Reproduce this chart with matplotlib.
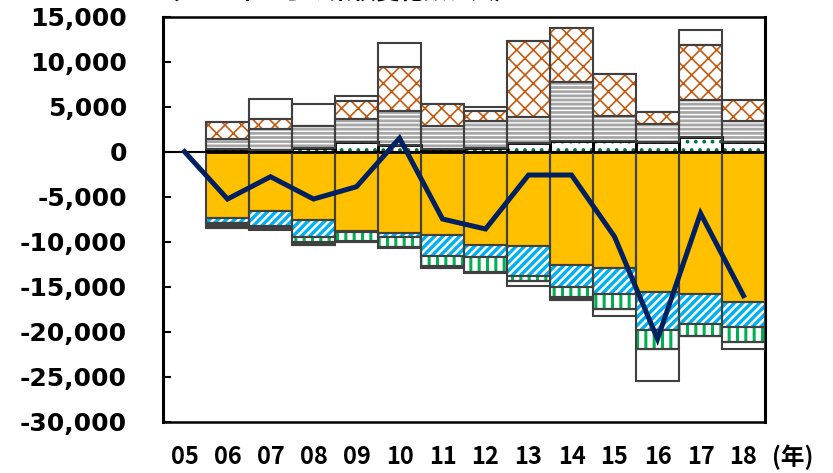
import numpy as np
import matplotlib
matplotlib.use("Agg")
import matplotlib.pyplot as plt

# year labels (05 has only the line value)
years = ['05', '06', '07', '08', '09', '10', '11', '12', '13', '14', '15', '16', '17', '18']
bar_years = years[1:]

# components above zero, from the axis upward
dotted_pos = [300, 200, 450, 1040, 700, 300, 400, 920, 1150, 1150, 1040, 1590, 1040]
stripe_pos = [1100, 2300, 2450, 2590, 3860, 2590, 3040, 2890, 6550, 2850, 2030, 4190, 2400]
cross_pos = [1900, 1100, 0, 2040, 4810, 2410, 1120, 8450, 6040, 4630, 1300, 6110, 2340]
blank_pos = [0, 2250, 2400, 550, 2710, 0, 370, 0, 0, 0, 0, 1670, 0]

# components below zero, from the axis downward
yellow_neg = [7370, 6630, 7590, 8850, 9070, 9260, 10330, 10520, 12560, 12930, 15630, 15810, 16740]
cyan_neg = [590, 1590, 1930, 50, 450, 2300, 1410, 3260, 2510, 2880, 4150, 3340, 2780]
green_neg = [0, 260, 550, 1040, 1110, 1110, 1670, 550, 1120, 1670, 2150, 1290, 1670]
dark_neg = [520, 100, 300, 80, 0, 260, 0, 0, 250, 0, 0, 0, 0]
blank_neg = [0, 120, 0, 0, 100, 0, 110, 560, 0, 740, 3510, 0, 740]

# net change line
net_total = [0, -5260, -2780, -5260, -3890, 1500, -7480, -8590, -2590, -2590, -9440, -20810, -6850, -16000]

x = np.arange(len(years))
xb = x[1:]

fig = plt.figure(figsize=(8.33, 4.73), dpi=100)
ax = fig.add_axes([0.1957, 0.1085, 0.9184 - 0.1957, 0.9647 - 0.1085])

OUTLINE = '#404040'


def layer(bottom, height, face, hatch=None, hcolor=None, hlw=1.0, edge=OUTLINE, elw=1.5):
    height = np.asarray(height, dtype=float)
    with plt.rc_context({'hatch.linewidth': hlw}):
        ax.bar(xb, height, bottom=bottom, width=1.0, color=face, hatch=hatch,
               edgecolor=hcolor if hatch else face, linewidth=0, zorder=2)
    ax.bar(xb, height, bottom=bottom, width=1.0, fill=False,
           edgecolor=edge, linewidth=elw, zorder=3)
    return bottom + height


# positive stack
b = np.zeros(len(xb))
b = layer(b, dotted_pos, 'white', '..', '#00703C', 1.5, edge='black', elw=2.0)
b = layer(b, stripe_pos, '#A6A6A6', '----', 'white', 1.0)
b = layer(b, cross_pos, 'white', 'xx', '#C55A11', 1.2)
b = layer(b, blank_pos, 'white')

# negative stack
b = np.zeros(len(xb))
b = layer(b, -np.array(yellow_neg), '#FFC000')
b = layer(b, -np.array(cyan_neg), '#00B0F0', '////', 'white', 1.8)
b = layer(b, -np.array(green_neg), 'white', '||', '#00B050', 2.2)
b = layer(b, -np.array(dark_neg), '#404040')
b = layer(b, -np.array(blank_neg), 'white')

ax.axhline(0, color='black', linewidth=1.5, zorder=4)
ax.plot(x, net_total, color='#002060', linewidth=3.6, zorder=5,
        solid_joinstyle='miter')

ax.set_xlim(-0.5, len(years) - 0.5)
ax.set_ylim(-30000, 15000)
ax.set_yticks(np.arange(-30000, 15001, 5000))
ax.set_yticklabels([f'{v:,}' for v in range(-30000, 15001, 5000)],
                   fontsize=18, fontweight='bold', family='DejaVu Sans')
ax.tick_params(axis='y', direction='in', length=6, width=1.5, pad=26)
ax.set_xticks(x)
ax.set_xticklabels(years, fontsize=17, fontweight='bold', family='Noto Sans CJK JP')
ax.tick_params(axis='x', length=0, pad=17)

for side in ['left', 'right']:
    ax.spines[side].set_linewidth(2.2)
for side in ['top', 'bottom']:
    ax.spines[side].set_linewidth(1.8)

fig.text(0.952, 0.034, '(年)', fontsize=17, fontweight='bold',
         family='Noto Sans CJK JP', ha='center', va='center')
fig.text(0.186, 1 - 5 / 473, '（2005年からの累積変化数、人）', fontsize=17,
         fontweight='bold', family='Noto Sans CJK JP', ha='left', va='bottom')

fig.savefig('out.png', dpi=100)
